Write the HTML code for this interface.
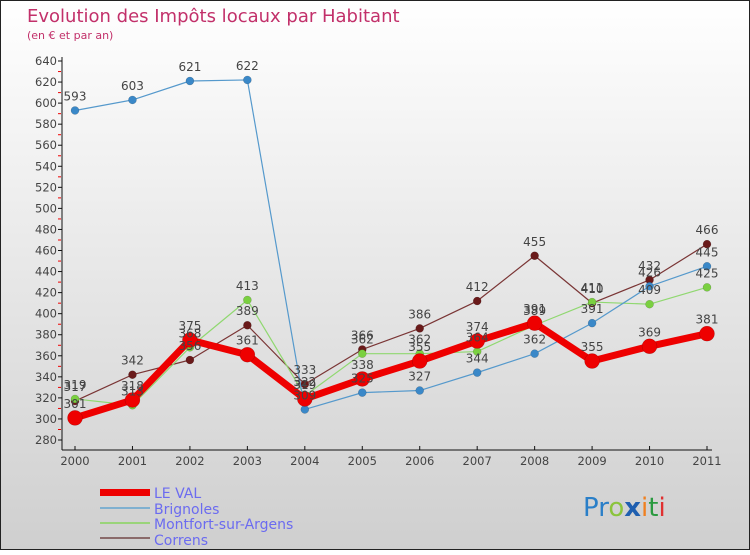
<!DOCTYPE html>
<html><head><meta charset="utf-8"><style>
body{margin:0}
svg text{font-family:"DejaVu Sans","Liberation Sans",sans-serif}
</style></head><body>
<svg id="c" width="750" height="550" xmlns="http://www.w3.org/2000/svg">
<defs><linearGradient id="bg" x1="0" y1="0" x2="0" y2="1"><stop offset="0" stop-color="#ffffff"/><stop offset="1" stop-color="#cfcfcf"/></linearGradient></defs>
<rect x="0.5" y="0.5" width="749" height="549" fill="url(#bg)" stroke="#222"/>
<text x="27" y="22" font-size="18" fill="#c2306a">Evolution des Impôts locaux par Habitant</text>
<text x="27" y="39" font-size="11" fill="#c2306a">(en € et par an)</text>
<g id="axes"></g><g id="series"></g><g id="labels"></g>
<g>
<rect x="100" y="489" width="50" height="7" fill="#ee0000"/>
<text x="154" y="498" font-size="14" fill="#6b6bf0">LE VAL</text>
<line x1="100" y1="508" x2="150" y2="508" stroke="#7fb0d0" stroke-width="2"/>
<text x="154" y="514" font-size="14" fill="#6b6bf0">Brignoles</text>
<line x1="100" y1="523" x2="150" y2="523" stroke="#9ad47a" stroke-width="2"/>
<text x="154" y="529" font-size="14" fill="#6b6bf0">Montfort-sur-Argens</text>
<line x1="100" y1="538" x2="150" y2="538" stroke="#8a6a6a" stroke-width="2"/>
<text x="154" y="545" font-size="14" fill="#6b6bf0">Correns</text>
</g>
<text x="583" y="516" font-size="26" font-family="Liberation Sans"><tspan fill="#2a7fc8">Pr</tspan><tspan fill="#8bc43c">o</tspan><tspan fill="#1f5fb0" font-weight="bold">x</tspan><tspan fill="#f08020">i</tspan><tspan fill="#2a9a40">t</tspan><tspan fill="#e03030">i</tspan></text>
</svg>
<script>
const years=[2000,2001,2002,2003,2004,2005,2006,2007,2008,2009,2010,2011];
const leVal=[301,318,375,361,319,338,355,374,391,355,369,381];
const brignoles=[593,603,621,622,309,325,327,344,362,391,426,445];
const montfort=[319,313,368,413,322,362,362,364,389,411,409,425];
const correns=[317,342,356,389,333,366,386,412,455,410,432,466];
const yTicks=[280,300,320,340,360,380,400,420,440,460,480,500,520,540,560,580,600,620,640];
const NS="http://www.w3.org/2000/svg";
const xs=i=>75+i*(707-75)/11;
const ys=v=>440-(v-280)*(440-61)/360;
function mk(t,a,p){const e=document.createElementNS(NS,t);for(const k in a)e.setAttribute(k,a[k]);p.appendChild(e);return e;}
const ax=document.getElementById('axes');
const yAxis=mk('line',{x1:62,y1:57,x2:62,y2:450,stroke:'#111'},ax);


const xAxis=mk('line',{x1:62,y1:450,x2:712,y2:450,stroke:'#111'},ax);


yTicks.forEach((v,i)=>{
  const y=ys(v);
  mk('line',{x1:58,y1:y,x2:62,y2:y,stroke:'#111'},ax);
  if(i<yTicks.length-1) mk('line',{x1:58,y1:y-10.5,x2:61,y2:y-10.5,stroke:'#e00'},ax);
  const t=mk('text',{x:57,y:y+4,'font-size':11.5,fill:'#444','text-anchor':'end'},ax);
  t.textContent=v;
  
  
});
years.forEach((yr,i)=>{
  mk('line',{x1:xs(i),y1:446,x2:xs(i),y2:450,stroke:'#111'},ax);
  const t=mk('text',{x:xs(i),y:465,'font-size':11.5,fill:'#444','text-anchor':'middle'},ax);
  t.textContent=yr;
  
  
});
const sg=document.getElementById('series'),lg=document.getElementById('labels');
function draw(data,color,w,r,name,dot){
  const pts=data.map((v,i)=>xs(i)+','+ys(v)).join(' ');
  const pl=mk('polyline',{points:pts,fill:'none',stroke:color,'stroke-width':w,'stroke-linejoin':'round'},sg);
  
  
  data.forEach((v,i)=>{
    const c=mk('circle',{cx:xs(i),cy:ys(v),r:r,fill:dot,stroke:'rgba(0,0,0,0.25)','stroke-width':0.5},sg);
    
    
    const t=mk('text',{x:xs(i),y:ys(v)-10,'font-size':12,fill:'#444','text-anchor':'middle'},lg);
    t.textContent=v;
    
    
  });
}
draw(correns,'#7a3535',1.2,4,'correns','#6a1a1a');
draw(montfort,'#90d870',1.2,4,'montfort','#7ad040');
draw(brignoles,'#5599cc',1.2,4,'brignoles','#3a88c8');
draw(leVal,'#ee0000',7,7.5,'le-val','#ee0000');
</script>
</body></html>
